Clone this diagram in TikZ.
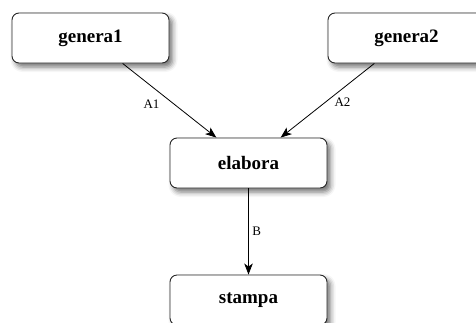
\documentclass[tikz,border=0pt]{standalone}
\usepackage{fontspec}
\setmainfont{Liberation Serif}
\usetikzlibrary{arrows.meta,shadows.blur}

\tikzset{
  procbox/.style={
    draw=black!85, line width=0.9pt, rounded corners=7pt, fill=white,
    minimum width=157pt, minimum height=50pt, inner sep=0pt,
    font=\fontsize{19}{22}\selectfont\bfseries,
    blur shadow={shadow xshift=3.5pt, shadow yshift=-4pt,
                 shadow blur radius=5pt, shadow opacity=55}
  },
  flow/.style={draw=black, line width=0.8pt,
    -{Stealth[length=11pt, width=8.5pt, inset=3pt]}},
  flowlabel/.style={font=\fontsize{13}{15}\selectfont, inner sep=0pt}
}

\begin{document}
\begin{tikzpicture}[x=1pt, y=-1pt]
  \useasboundingbox (0,0) rectangle (476,322);
  \clip (0,0) rectangle (476,322);

  % processes
  \node[procbox] (g1) at (90.5,38)  {genera1};
  \node[procbox] (g2) at (406.5,38) {genera2};
  \node[procbox] (el) at (248.5,163) {elabora};
  \node[procbox] (st) at (248.5,300) {stampa};

  % data flows
  \draw[flow] (g1) -- node[flowlabel, midway, xshift=-18pt, yshift=-3.5pt] (lA1) {A1} (el);
  \draw[flow] (g2) -- node[flowlabel, midway, xshift=15pt, yshift=-2pt] (lA2) {A2} (el);
  \draw[flow] (el) -- node[flowlabel, midway, anchor=west, xshift=3.5pt] (lB) {B} (st);
\end{tikzpicture}
\end{document}
